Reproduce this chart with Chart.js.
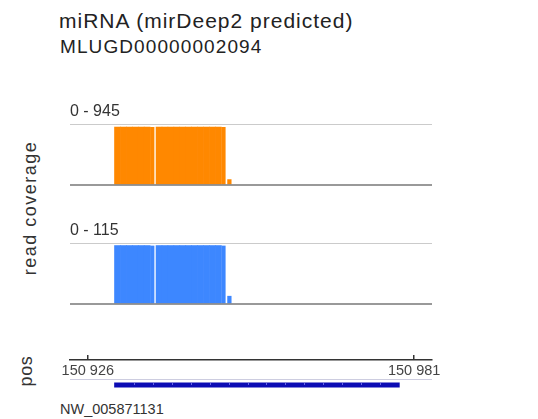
<!DOCTYPE html>
<html><head><meta charset="utf-8">
<script src="https://cdn.jsdelivr.net/npm/chart.js@4"></script>
<style>
html,body{margin:0;padding:0;background:#fff;width:538px;height:419px;overflow:hidden;}
body{position:relative;font-family:"Liberation Sans",Arial,sans-serif;color:#333;}
.t{position:absolute;white-space:nowrap;line-height:1;}
canvas{position:absolute;}
</style></head><body>
<div class="t" style="left:59px;top:9.5px;font-size:21px;letter-spacing:1px;color:#222">miRNA (mirDeep2 predicted)</div>
<div class="t" style="left:60px;top:37.2px;font-size:19px;letter-spacing:1.1px;color:#222">MLUGD00000002094</div>
<div class="t" style="left:29.5px;top:207.5px;font-size:18px;letter-spacing:1.5px;transform:translate(-50%,-50%) rotate(-90deg)">read coverage</div>
<div class="t" style="left:26.3px;top:371.3px;font-size:18px;letter-spacing:0.6px;transform:translate(-50%,-50%) rotate(-90deg)">pos</div>
<div class="t" id="refname" style="left:60px;top:401.5px;font-size:14.5px;color:#333"></div>
<canvas id="cA" width="362" height="89" style="left:70px;top:100px"></canvas>
<canvas id="cB" width="362" height="89" style="left:70px;top:219px"></canvas>
<canvas id="cR" width="430" height="54" style="left:40px;top:330px"></canvas>
<canvas id="cF" width="362" height="15" style="left:70px;top:376px"></canvas>
<script>
// ---- data ----
const refName = "NW_005871131";
const viewStart = 150923;
const viewEnd = 150984;
const tickValues = [150926, 150981];
// coverage features (inclusive base ranges)
const featureStarts = [150931, 150938, 150950];
const featureEnds   = [150937, 150949, 150950];
const orangeCoverage = [945, 945, 93];
const blueCoverage   = [115, 115, 16];
const trackScaleMax  = [995, 120];
// predicted miRNA feature
const mirnaStart = 150931;
const mirnaEnd   = 150978;

document.getElementById('refname').textContent = refName;

function perBase(scores) {
  const pts = [];
  featureStarts.forEach((s, i) => {
    for (let p = s; p <= featureEnds[i]; p++) {
      pts.push({x: p, y: scores[i], last: p === featureEnds[i]});
    }
  });
  return pts;
}

const trackPlugin = {
  id: 'trackDeco',
  beforeDatasetsDraw(chart, args, opts) {
    const {ctx, chartArea: a, scales: {y}} = chart;
    const yt = Math.round(y.getPixelForValue(y.max)) + 0.5;
    ctx.save();
    ctx.strokeStyle = '#cbcbcb';
    ctx.lineWidth = 1;
    ctx.beginPath(); ctx.moveTo(a.left, yt); ctx.lineTo(a.right, yt); ctx.stroke();
    ctx.fillStyle = '#333';
    ctx.font = '16px "Liberation Sans", Arial, sans-serif';
    ctx.textBaseline = 'middle';
    ctx.fillText(opts.label, a.left, a.top - 12.5);
    ctx.restore();
  },
  afterDatasetsDraw(chart) {
    const {ctx, chartArea: a, scales: {y}} = chart;
    const y0 = y.getPixelForValue(0);
    ctx.save();
    ctx.fillStyle = '#8e8e8e';
    ctx.fillRect(a.left, y0 - 0.9, a.right - a.left, 1.8);
    ctx.restore();
  }
};

function makeTrack(id, scores, color, max) {
  return new Chart(document.getElementById(id), {
    type: 'bar',
    data: {datasets: [{
      data: perBase(scores),
      backgroundColor: color,
      borderColor: '#ffffff',
      borderWidth: c => (c.raw && c.raw.last) ? {top: 0, left: 0, bottom: 0, right: 2} : 0,
      borderSkipped: false,
      barPercentage: 1,
      categoryPercentage: 1
    }]},
    options: {
      responsive: false, animation: false, events: [],
      layout: {padding: {top: 24, bottom: 4, left: 0, right: 0}},
      scales: {
        x: {type: 'linear', min: viewStart, max: viewEnd, offset: false, display: false},
        y: {type: 'linear', min: 0, max: max, display: false}
      },
      plugins: {legend: {display: false}, tooltip: {enabled: false},
        trackDeco: {label: '0 - ' + Math.max(...scores)}}
    },
    plugins: [trackPlugin]
  });
}

makeTrack('cA', orangeCoverage, '#ff8800', trackScaleMax[0]);
makeTrack('cB', blueCoverage, '#3d87ff', trackScaleMax[1]);

// ruler: chart area 338..360, axis line at 360, tick marks are the last 5px of the grid lines
new Chart(document.getElementById('cR'), {
  type: 'scatter',
  data: {datasets: []},
  options: {
    responsive: false, animation: false, events: [],
    layout: {padding: {top: 8, bottom: 2.6, left: 30, right: 38}},
    scales: {
      x: {
        type: 'linear', position: 'bottom', min: viewStart, max: viewEnd, offset: false,
        afterBuildTicks: s => { s.ticks = tickValues.map(v => ({value: v})); },
        ticks: {
          autoSkip: false, maxRotation: 0, padding: 2, color: '#444',
          font: {family: '"Liberation Sans", Arial, sans-serif', size: 14.5},
          callback: v => String(v).replace(/\B(?=(\d{3})+(?!\d))/g, ' ')
        },
        grid: {drawOnChartArea: true, drawTicks: false, tickLength: 0, color: '#333', lineWidth: 1.5},
        border: {display: true, color: '#333', width: 1.5, dash: [5, 60], dashOffset: 48}
      },
      y: {display: false, min: 0, max: 1}
    },
    plugins: {legend: {display: false}, tooltip: {enabled: false}}
  }
});

// feature track
const strandPlugin = {
  id: 'strand',
  afterDatasetsDraw(chart) {
    const {ctx} = chart;
    const bar = chart.getDatasetMeta(0).data[0];
    if (!bar) return;
    const {x, y, base, height} = bar.getProps(['x', 'y', 'base', 'height'], true);
    const x0 = Math.min(x, base), x1 = Math.max(x, base);
    ctx.save();
    ctx.fillStyle = 'rgba(150,150,255,0.9)';
    for (let px = x0 + 19.3; px < x1 - 6; px += 18.95) {
      ctx.fillRect(Math.round(px), y - height / 2 + 0.5, 1, 1.5);
    }
    ctx.restore();
  }
};
new Chart(document.getElementById('cF'), {
  type: 'bar',
  data: {labels: [refName], datasets: [{
    data: [[mirnaStart - 0.5, mirnaEnd + 0.5]],
    backgroundColor: '#0c0cb4',
    barThickness: 4.5,
    borderSkipped: false
  }]},
  options: {
    indexAxis: 'y',
    responsive: false, animation: false, events: [],
    layout: {padding: {top: 3, bottom: 0, left: 0, right: 0}},
    scales: {
      x: {type: 'linear', position: 'top', min: viewStart, max: viewEnd, offset: false,
        ticks: {display: false},
        grid: {drawOnChartArea: false, drawTicks: false, tickLength: 0},
        border: {display: true, color: '#cdcde0', width: 1}},
      y: {display: false}
    },
    plugins: {legend: {display: false}, tooltip: {enabled: false}}
  },
  plugins: [strandPlugin]
});
</script>
</body></html>
